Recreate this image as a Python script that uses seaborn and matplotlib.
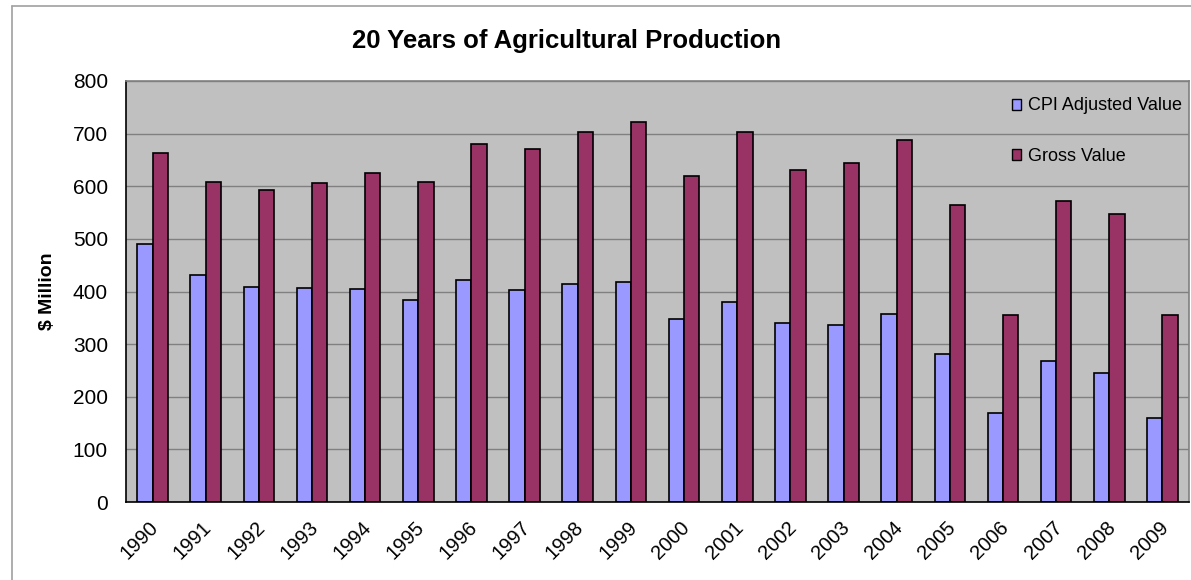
import pandas as pd
import matplotlib.pyplot as plt
import matplotlib.transforms as mtransforms
from matplotlib.lines import Line2D
from matplotlib.patches import Patch
import seaborn as sns

# Values ($ million)
years = [str(y) for y in range(1990, 2010)]
cpi_adjusted = [491, 431, 408, 406, 405, 383, 422, 403, 415, 418,
                347, 380, 341, 336, 357, 282, 170, 268, 246, 160]
gross_value = [663, 608, 592, 607, 625, 608, 681, 671, 703, 722,
               620, 704, 631, 645, 688, 565, 355, 572, 547, 356]
series_names = ['CPI Adjusted Value', 'Gross Value']
series_colors = ['#9999FF', '#993366']

# Long format for seaborn
df = pd.DataFrame({
    'year': years * 2,
    'value': cpi_adjusted + gross_value,
    'series': [series_names[0]] * len(years) + [series_names[1]] * len(years),
})

sns.set_style('white')
plt.rcParams['font.family'] = ['Liberation Sans', 'DejaVu Sans']
plt.rcParams['text.color'] = 'black'
plt.rcParams['xtick.labelcolor'] = 'black'
plt.rcParams['ytick.labelcolor'] = 'black'
plt.rcParams['axes.labelcolor'] = 'black'

fig = plt.figure(figsize=(11.91, 5.80), dpi=100)
ax = fig.add_axes([126 / 1191, 1 - 502 / 580, (1189 - 126) / 1191, (502 - 81) / 580])
ax.set_facecolor('#C0C0C0')

sns.barplot(data=df, x='year', y='value', hue='series', order=years,
            hue_order=series_names, palette=series_colors, width=0.576,
            edgecolor='black', linewidth=1.2, saturation=1, legend=False, ax=ax)

ax.set_xlim(-0.5, len(years) - 0.5)
ax.set_ylim(0, 800)
ax.set_yticks(range(0, 801, 100))
ax.yaxis.grid(True, color='#808080', linewidth=1)
ax.set_axisbelow(True)

# category boundary ticks like Excel
ax.set_xticks([i + 0.5 for i in range(-1, len(years))], minor=True)
ax.tick_params(axis='x', which='minor', length=6, width=1, color='#808080', direction='out')
ax.tick_params(axis='x', which='major', length=0, pad=16)
ax.tick_params(axis='y', length=6, width=1, color='#808080', direction='out', pad=7, labelsize=15)
ax.set_xticks(range(len(years)))
ax.set_xticklabels(years, rotation=45, ha='right', va='center', rotation_mode='anchor', fontsize=14.5)
shift = mtransforms.ScaledTranslation(3 / 100, 0, fig.dpi_scale_trans)
for lbl in ax.get_xticklabels():
    lbl.set_transform(lbl.get_transform() + shift)

for side in ['left', 'bottom']:
    ax.spines[side].set_color('black')
    ax.spines[side].set_linewidth(1.2)
for side in ['top', 'right']:
    ax.spines[side].set_color('#808080')
    ax.spines[side].set_linewidth(1.2)

ax.set_xlabel('')
ax.set_ylabel('$ Million', fontsize=14, fontweight='bold', labelpad=12)

handles = [Patch(facecolor=c, edgecolor='black', linewidth=1) for c in series_colors]
ax.legend(handles, series_names, loc='upper right', bbox_to_anchor=(1.0, 0.978),
          frameon=False, fontsize=13, labelspacing=1.85, handlelength=0.55,
          handleheight=0.55, handletextpad=0.35, borderaxespad=0.0)

fig.text(567 / 1191, 1 - 41 / 580, '20 Years of Agricultural Production',
         ha='center', va='center', fontsize=18.5, fontweight='bold')

# outer chart border
fig.add_artist(Line2D([12 / 1191, 12 / 1191], [0, 1 - 6 / 580], color='#A0A0A0', linewidth=1.2,
                      transform=fig.transFigure))
fig.add_artist(Line2D([12 / 1191, 1], [1 - 6 / 580, 1 - 6 / 580], color='#A0A0A0', linewidth=1.2,
                      transform=fig.transFigure))

fig.savefig('out.png', dpi=100)
